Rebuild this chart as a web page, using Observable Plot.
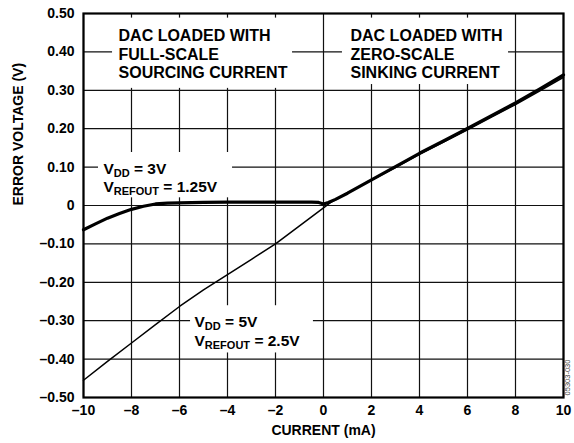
<!DOCTYPE html>
<html><head><meta charset="utf-8">
<script src="https://cdn.jsdelivr.net/npm/d3@7"></script>
<script src="https://cdn.jsdelivr.net/npm/@observablehq/plot@0.6"></script>
<style>body{margin:0;background:#fff}</style>
</head><body><div id="chart"></div>
<script>
const xTicks = [-10, -8, -6, -4, -2, 0, 2, 4, 6, 8, 10];
const yTicks = [-0.5, -0.4, -0.3, -0.2, -0.1, 0, 0.1, 0.2, 0.3, 0.4, 0.5];
const xLabel = "CURRENT (mA)";
const yLabel = "ERROR VOLTAGE (V)";

// VDD = 3V, VREFOUT = 1.25V (thick)
const current3V = [-10, -9.5, -9, -8.5, -8, -7.5, -7, -6.5, -6, -5, -4, -3, -2, -1, -0.5, -0.2, 0, 0.2, 0.5, 1, 2, 3, 4, 5, 6, 7, 8, 9, 10];
const error3V   = [-0.063, -0.048, -0.033, -0.021, -0.010, -0.002, 0.004, 0.006, 0.007, 0.008, 0.009, 0.009, 0.009, 0.009, 0.009, 0.008, 0.004, 0.008, 0.016, 0.032, 0.067, 0.101, 0.136, 0.168, 0.201, 0.234, 0.267, 0.303, 0.340];

// VDD = 5V, VREFOUT = 2.5V (thin)
const current5V = [-10, -9, -8, -7, -6, -5, -4, -3, -2, -1, 0, 0.3, 0.6, 1, 2, 3, 4, 5, 6, 7, 8, 9, 10];
const error5V   = [-0.455, -0.406, -0.358, -0.310, -0.263, -0.220, -0.180, -0.140, -0.100, -0.053, -0.006, 0.008, 0.018, 0.033, 0.066, 0.099, 0.133, 0.165, 0.197, 0.230, 0.263, 0.298, 0.334];

const headNotes = [
  {x: -8.54, y: 0.4616, text: "DAC LOADED WITH\nFULL-SCALE\nSOURCING CURRENT"},
  {x: 1.125, y: 0.4616, text: "DAC LOADED WITH\nZERO-SCALE\nSINKING CURRENT"}
];
const supplyNotes = [
  {x: -9.17, y: 0.117, text: "V_{DD} = 3V\nV_{REFOUT} = 1.25V"},
  {x: -5.375, y: -0.283, text: "V_{DD} = 5V\nV_{REFOUT} = 2.5V"}
];
const boxes = [
  {x1: -8.79, x2: -1.29, y1: 0.305, y2: 0.488},
  {x1: 0.79, x2: 7.71, y1: 0.315, y2: 0.488},
  {x1: -9.375, x2: -3.79, y1: 0.02, y2: 0.138},
  {x1: -5.54, x2: -0.42, y1: -0.384, y2: -0.261}
];

const s3 = current3V.map((x, i) => ({x, y: error3V[i]}));
const s5 = current5V.map((x, i) => ({x, y: error5V[i]}));

const fx = v => (v < 0 ? "\u2013" : "") + Math.abs(v);
const fy = v => Math.abs(v) < 1e-9 ? "0" : (v < 0 ? "\u2013" : "") + Math.abs(v).toFixed(2);

const chart = Plot.plot({
  width: 574, height: 443,
  marginLeft: 83, marginRight: 11, marginTop: 13, marginBottom: 46,
  style: {fontFamily: "'Liberation Sans', Arial, sans-serif", fontWeight: "bold", background: "#fff", color: "#000"},
  x: {domain: [-10, 10]},
  y: {domain: [-0.5, 0.5]},
  marks: [
    Plot.gridX(xTicks, {stroke: "#111", strokeOpacity: 1, strokeWidth: 1.2}),
    Plot.gridY(yTicks, {stroke: "#111", strokeOpacity: 1, strokeWidth: 1.2}),
    Plot.rect(boxes, {x1: "x1", x2: "x2", y1: "y1", y2: "y2", fill: "white"}),
    Plot.line(s5, {x: "x", y: "y", stroke: "#000", strokeWidth: 1.5}),
    Plot.line(s3, {x: "x", y: "y", stroke: "#000", strokeWidth: 3.2}),
    Plot.frame({stroke: "#000", strokeWidth: 2.2}),
    Plot.axisX(xTicks, {tickSize: 0, tickPadding: 8, fontSize: 14, tickFormat: fx, label: null}),
    Plot.axisY(yTicks, {tickSize: 0, tickPadding: 9, fontSize: 14, tickFormat: fy, label: null}),
    Plot.text([xLabel], {frameAnchor: "bottom", dy: 28, lineAnchor: "top", fontSize: 14, fill: "#000"}),
    Plot.text([yLabel], {frameAnchor: "left", dx: -70, rotate: -90, lineAnchor: "top", fontSize: 14, fill: "#000"}),
    Plot.text(headNotes, {x: "x", y: "y", text: "text", textAnchor: "start", lineAnchor: "top", fontSize: 16, lineHeight: 1.15, fill: "#000"}),
    Plot.text(supplyNotes, {x: "x", y: "y", text: "text", textAnchor: "start", lineAnchor: "top", fontSize: 15.5, lineHeight: 1.2, fill: "#000"}),
    Plot.text(["05303-030"], {frameAnchor: "bottom-right", rotate: -90, dx: 6, dy: -20, fontSize: 7.5, fontWeight: "normal", fill: "#444", textAnchor: "middle"})
  ]
});

// subscripts: V_{DD} -> V with subscript DD
d3.select(chart).selectAll("text, tspan").each(function () {
  if (this.childElementCount) return;
  const s = this.textContent;
  if (!s.includes("_{")) return;
  const el = d3.select(this);
  el.text(null);
  let pending = 0;
  s.split(/(_\{[^}]*\})/).forEach(p => {
    if (!p) return;
    if (p.startsWith("_{")) {
      el.append("tspan").attr("font-size", 11).attr("dy", 3 + pending).text(p.slice(2, -1));
      pending = -3;
    } else {
      const t = el.append("tspan").text(p);
      if (pending) t.attr("dy", pending);
      pending = 0;
    }
  });
});

document.getElementById("chart").appendChild(chart);
</script>
</body></html>
